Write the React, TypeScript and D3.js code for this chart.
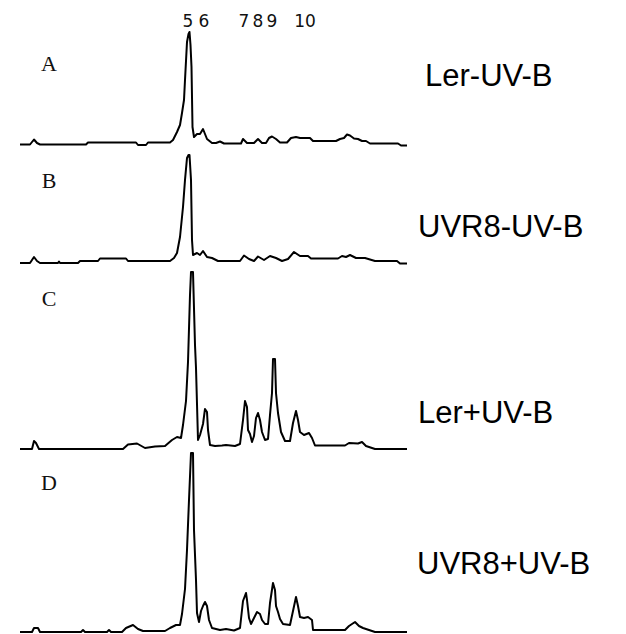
import React from "react";
import * as d3 from "d3";

// Retention time (min) / detector response for each sample trace
const traceA: [number, number][] = [
  [0, 0], [1.0, 0], [1.4, 5], [1.7, 1.5], [2.0, 0], [6.6, 0], [6.8, 2], [11.6, 2], [11.8, -0.5], [12.6, -0.5],
  [12.8, 2], [15.0, 2], [15.3, 4.5], [15.7, 12.5], [16.0, 19.5], [16.2, 31.5], [16.4, 44.5], [16.5, 64.5],
  [16.7, 102.5], [16.85, 110.5], [16.95, 112.5], [17.05, 99.5], [17.15, 77.5], [17.25, 17.5], [17.4, 7.5],
  [17.7, 10.5], [18.0, 10.5], [18.3, 15.5], [18.5, 10.5], [18.7, 5.5], [19.2, 1.5], [19.6, 1.5], [20.0, 3],
  [20.4, 1], [22.1, 1], [22.3, 5.5], [22.7, 1.5], [23.4, 1.5], [23.8, 5.5], [24.2, 1.5], [24.6, 1.5],
  [24.9, 6.5], [25.2, 8], [25.6, 5.5], [26.0, 2], [26.7, 2], [27.1, 6.5], [27.6, 7.5], [28.0, 6.5],
  [29.0, 6.5], [29.3, 3.5], [31.6, 3.5], [32.0, 5.5], [32.4, 6.5], [32.7, 10], [33.0, 9], [33.4, 6],
  [33.8, 5.5], [34.2, 3.5], [34.6, 3.5], [35.0, 1], [37.8, 1], [38.1, -1], [38.7, -1],
];

const traceB: [number, number][] = [
  [0, 0], [1.0, 0], [1.4, 6], [1.7, 2], [2.0, 0], [3.8, 0], [3.9, 1.5], [4.0, 0], [5.8, 0], [6.0, 2],
  [7.8, 2], [8.0, 4.5], [10.6, 4.5], [10.8, 2], [15.0, 2], [15.4, 5], [15.7, 10], [16.0, 26], [16.3, 56],
  [16.5, 83], [16.7, 105], [16.85, 108], [16.95, 108], [17.1, 83], [17.2, 23], [17.3, 8], [17.7, 10],
  [18.0, 8], [18.3, 12], [18.7, 6], [19.2, 5], [19.8, 2], [22.0, 2], [22.4, 7.5], [22.9, 4], [23.4, 2],
  [23.8, 6.5], [24.4, 3], [25.0, 7], [25.6, 5], [26.2, 2], [26.8, 4], [27.4, 11], [28.0, 7], [28.8, 7],
  [29.1, 4.5], [31.8, 4.5], [32.2, 7], [32.6, 6], [33.0, 8], [33.6, 5], [34.5, 5], [35.5, 2], [37.7, 2],
  [38.0, -0.5], [38.7, -0.5],
];

const traceC: [number, number][] = [
  [0, 0], [1.2, 0], [1.4, 8], [1.6, 6], [1.9, 0], [10.3, 0], [10.8, 4.5], [11.7, 5.5], [12.5, 1],
  [13.5, 2.5], [14.5, 3], [15.2, 9], [15.7, 12], [16.1, 11], [16.3, 24], [16.6, 48], [16.8, 87], [17.0, 154],
  [17.1, 177], [17.3, 177], [17.5, 104], [17.6, 81], [17.8, 9], [18.0, 14], [18.3, 25], [18.5, 40],
  [18.7, 37], [18.8, 19], [19.0, 4], [19.5, 3], [20.2, 3.5], [20.6, 4], [21.5, 3], [22.0, 5], [22.3, 29],
  [22.5, 48], [22.7, 42], [22.8, 19], [23.0, 15], [23.2, 7], [23.4, 13], [23.6, 31], [23.8, 36], [24.0, 29],
  [24.2, 17], [24.5, 9], [24.8, 10], [25.0, 34], [25.2, 56], [25.3, 90], [25.5, 90], [25.6, 56], [25.8, 36],
  [26.1, 17], [26.5, 8], [27.0, 8], [27.3, 26], [27.6, 38], [27.8, 29], [28.0, 17], [28.4, 14], [28.9, 16],
  [29.2, 11], [29.5, 3.5], [32.5, 3.5], [32.9, 6], [33.8, 5.5], [34.2, 7], [34.6, 3], [35.5, 0], [38.7, 0],
];

const traceD: [number, number][] = [
  [0, 0], [1.2, 0], [1.4, 4], [1.8, 4], [2.0, 0], [6.1, 0], [6.3, 2], [6.5, 0], [8.7, 0], [8.9, 2], [9.1, 0],
  [10.2, 0], [10.6, 4], [11.3, 7], [11.8, 3], [12.3, 1], [14.5, 1], [15.0, 4], [15.6, 7], [16.0, 7],
  [16.2, 18], [16.5, 43], [16.7, 82], [16.9, 132], [17.1, 179], [17.3, 179], [17.4, 102], [17.6, 52],
  [17.7, 19], [17.9, 10], [18.1, 21], [18.3, 26], [18.5, 30], [18.7, 26], [18.9, 12], [19.2, 4], [20.0, 2],
  [20.6, 3], [21.4, 1.5], [22.0, 4], [22.3, 31], [22.6, 39], [22.7, 32], [22.9, 14], [23.1, 8], [23.4, 14],
  [23.7, 20], [24.0, 18], [24.2, 12], [24.5, 8], [24.8, 8], [25.0, 29], [25.3, 49], [25.5, 42], [25.6, 26],
  [25.8, 20], [26.0, 13], [26.3, 8], [27.0, 7], [27.3, 21], [27.6, 35], [27.8, 26], [28.0, 15], [28.4, 14],
  [28.8, 15], [29.2, 12], [29.3, 2], [32.5, 2], [32.9, 6], [33.5, 10], [33.9, 6], [34.3, 4], [35.5, 0],
  [38.7, 0],
];

const panelLetters = ["A", "B", "C", "D"];
const sampleNames = ["Ler-UV-B", "UVR8-UV-B", "Ler+UV-B", "UVR8+UV-B"];
const peakLabels = ["5", "6", "7", "8", "9", "10"];
const peakTimes = [16.8, 18.4, 22.4, 23.8, 25.2, 28.5];

const traces = [traceA, traceB, traceC, traceD];

export default function App() {
  const W = 626;
  const H = 634;
  const x = d3.scaleLinear().domain([0, 38.7]).range([20, 407]);
  const baselines = [144.5, 263, 449, 632];
  const letterY = [71, 188, 306, 490];
  const nameY = [86, 237, 423, 574];
  const nameX = [425, 418, 418, 417];

  return (
    <svg
      width={W}
      height={H}
      style={{ position: "absolute", left: 0, top: 0, background: "#fff" }}
    >
      <rect width={W} height={H} fill="#fff" />
      {peakLabels.map((lab, i) => (
        <text
          key={lab}
          x={x(peakTimes[i])}
          y={27}
          textAnchor="middle"
          fontFamily="'DejaVu Sans', sans-serif"
          fontSize={17}
          fill="#111"
        >
          {lab}
        </text>
      ))}
      {traces.map((tr, i) => {
        const y = d3.scaleLinear().domain([0, 100]).range([baselines[i], baselines[i] - 100]);
        const line = d3
          .line<[number, number]>()
          .x((d) => x(d[0]))
          .y((d) => y(d[1]))
          .curve(d3.curveLinear);
        return (
          <g key={i}>
            <path d={line(tr) || ""} fill="none" stroke="#000" strokeWidth={2} strokeLinejoin="round" />
            <text
              x={49}
              y={letterY[i]}
              textAnchor="middle"
              fontFamily="'Liberation Serif', serif"
              fontSize={22}
              fill="#111"
            >
              {panelLetters[i]}
            </text>
            <text
              x={nameX[i]}
              y={nameY[i]}
              fontFamily="'Liberation Sans', Arial, sans-serif"
              fontSize={31}
              fill="#000"
            >
              {sampleNames[i]}
            </text>
          </g>
        );
      })}
    </svg>
  );
}
